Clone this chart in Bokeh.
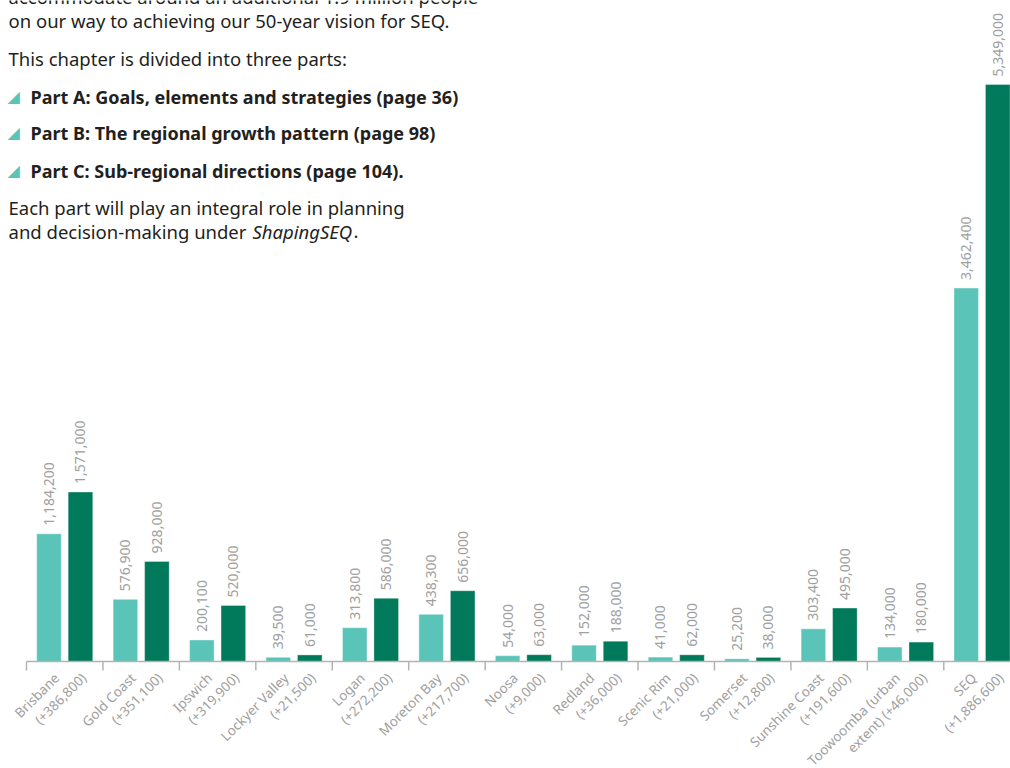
import math

from bokeh.plotting import figure
from bokeh.models import Range1d, Label, ColumnDataSource
from bokeh.core.properties import value
from bokeh.embed import file_html
from bokeh.resources import INLINE

# Population by local government area, 2016 and projected 2041
label_top = ["Brisbane", "Gold Coast", "Ipswich", "Lockyer Valley", "Logan",
             "Moreton Bay", "Noosa", "Redland", "Scenic Rim", "Somerset",
             "Sunshine Coast", "Toowoomba (urban", "SEQ"]
label_bottom = ["(+386,800)", "(+351,100)", "(+319,900)", "(+21,500)", "(+272,200)",
                "(+217,700)", "(+9,000)", "(+36,000)", "(+21,000)", "(+12,800)",
                "(+191,600)", "extent) (+46,000)", "(+1,886,600)"]
pop_2016 = [1184200, 576900, 200100, 39500, 313800, 438300, 54000,
            152000, 41000, 25200, 303400, 134000, 3462400]
pop_2041 = [1571000, 928000, 520000, 61000, 586000, 656000, 63000,
            188000, 62000, 38000, 495000, 180000, 5349000]

LIGHT = "#5bc4b9"
DARK = "#007a5a"
LABEL_GREY = "#a0a0a0"
AXIS_GREY = "#b3b3b3"
INK = "#231f20"
FONT = "Noto Sans"

W, H = 1010, 768
base_px = 107          # distance of the baseline above the bottom edge
top_px = 577           # pixel height of the tallest bar
group_px = 76.44       # pixel width of one region group
left_px = 26           # left edge of the first group

scale = top_px / max(pop_2041)          # pixels per person
x0 = -left_px / group_px
x_range = Range1d(x0, x0 + W / group_px)
y_range = Range1d(-base_px / scale, (H - base_px) / scale)

p = figure(width=W, height=H, x_range=x_range, y_range=y_range,
           output_backend="svg", toolbar_location=None, min_border=0,
           x_axis_type=None, y_axis_type=None, outline_line_color=None)
p.background_fill_color = "white"
p.border_fill_color = "white"

n = len(label_top)
bar_w = 0.322
off = 0.206
src = ColumnDataSource(dict(
    xc=[i + 0.5 for i in range(n)],
    x16=[i + 0.5 - off for i in range(n)],
    x41=[i + 0.5 + off for i in range(n)],
    v16=pop_2016,
    v41=pop_2041,
    t16=[f"{v:,}" for v in pop_2016],
    t41=[f"{v:,}" for v in pop_2041],
    top=label_top,
    bottom=label_bottom,
))

p.vbar(x="x16", top="v16", bottom=0, width=bar_w, source=src,
       fill_color=LIGHT, line_color="white", line_alpha=0.45, line_width=1)
p.vbar(x="x41", top="v41", bottom=0, width=bar_w, source=src,
       fill_color=DARK, line_color="white", line_alpha=0.35, line_width=1)

# value labels above each bar
for xcol, vcol, tcol in (("x16", "v16", "t16"), ("x41", "v41", "t41")):
    p.text(x=xcol, y=vcol, text=tcol, source=src, angle=math.pi / 2,
           text_align="left", text_baseline="middle", y_offset=-8,
           text_font=value(FONT), text_font_size="14px", text_color=LABEL_GREY)

# baseline and group ticks
tick_len = 9 / scale
p.segment(x0=[0], y0=[0], x1=[n + 0.5], y1=[0], line_color=AXIS_GREY, line_width=1.5)
p.segment(x0=list(range(n + 1)), y0=[0] * (n + 1), x1=list(range(n + 1)),
          y1=[-tick_len] * (n + 1), line_color=AXIS_GREY, line_width=1.5)

# rotated two-line category labels
p.text(x="xc", y=0, text="top", source=src, angle=math.pi / 4,
       text_align="right", text_baseline="middle", x_offset=-8, y_offset=14,
       text_font=value(FONT), text_font_size="13.5px", text_color=LABEL_GREY)
p.text(x="xc", y=0, text="bottom", source=src, angle=math.pi / 4,
       text_align="right", text_baseline="middle", x_offset=19, y_offset=14,
       text_font=value(FONT), text_font_size="13.5px", text_color=LABEL_GREY)

# introductory text block
def add_text(txt, x, y_top, size="18.5px", style="normal", color=INK, font=FONT):
    p.add_layout(Label(x=x, y=H - y_top, x_units="screen", y_units="screen",
                       text=txt, text_font=font, text_font_size=size,
                       text_font_style=style, text_color=color,
                       text_baseline="middle", text_align="left"))

add_text("accommodate around an additional 1.9 million people", 8, -4)
add_text("on our way to achieving our 50-year vision for SEQ.", 8, 20)
add_text("This chapter is divided into three parts:", 8, 58)
for txt, yy in (("Part A: Goals, elements and strategies (page 36)", 96),
                ("Part B: The regional growth pattern (page 98)", 132),
                ("Part C: Sub-regional directions (page 104).", 170)):
    add_text("\u25e2", 7, yy, size="16px", color=LIGHT, font="DejaVu Sans")
    add_text(txt, 30, yy, size="18px", style="bold")
add_text("Each part will play an integral role in planning", 8, 207)
add_text("and decision-making under", 8, 231)
add_text("ShapingSEQ", 252, 231, style="italic")
add_text(".", 353, 231)

open("out.html", "w").write(file_html(p, INLINE))
